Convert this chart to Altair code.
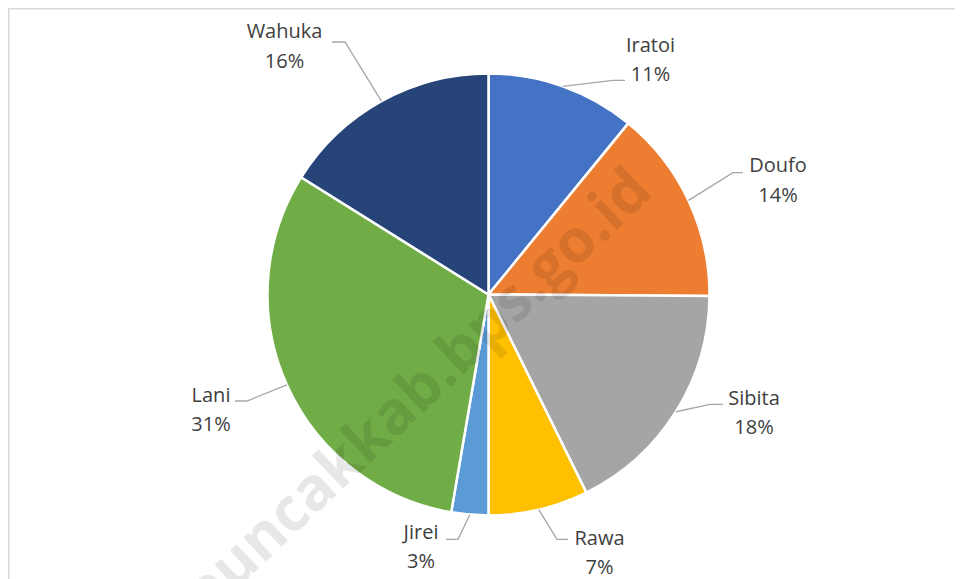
import math
import altair as alt
import pandas as pd

# ---- data ----
names = ["Iratoi", "Doufo", "Sibita", "Rawa", "Jirei", "Lani", "Wahuka"]
values = [10.9, 14.2, 17.6, 7.3, 2.7, 31.2, 16.1]
colors = ["#4472C4", "#ED7D31", "#A5A5A5", "#FFC000", "#5B9BD5", "#70AD47", "#264478"]
watermark = "puncakkab.bps.go.id"

# ---- layout (page pixel coordinates) ----
OFF = 8
W, H = 947, 571
CX, CY, R = 488.5, 294.5, 221
# label centre x, name baseline y, pct baseline y
label_pos = {
    "Iratoi": (650.5, 51.7, 80.7),
    "Doufo": (778, 172.3, 201.7),
    "Sibita": (754, 405, 434),
    "Rawa": (599.5, 545, 573.5),
    "Jirei": (421, 539.3, 568),
    "Lani": (211, 401.7, 431),
    "Wahuka": (284.5, 37.7, 67.5),
}
# leader elbow and end points
leader_pts = {
    "Iratoi": [(613, 80.3), (625, 80.3)],
    "Doufo": [(733, 172.7), (743, 172.7)],
    "Sibita": [(710, 404.3), (723, 404.3)],
    "Rawa": [(557, 539.3), (568, 539.3)],
    "Jirei": [(458, 539.3), (446, 539.3)],
    "Lani": [(247, 401), (235, 401)],
    "Wahuka": [(345, 42), (332, 42)],
}

total = sum(values)
rows, lines = [], []
cum = 0.0
for i, (n, v) in enumerate(zip(names, values)):
    mid = (cum + v / 2) / total * 2 * math.pi
    cum += v
    lx, ly1, ly2 = label_pos[n]
    rows.append({"idx": i, "name": n, "value": v,
                 "pct": f"{round(v / total * 100)}%",
                 "lx": lx, "ly1": ly1, "ly2": ly2})
    pts = [(CX + R * math.sin(mid), CY - R * math.cos(mid))] + leader_pts[n]
    for j, (px, py) in enumerate(pts):
        lines.append({"name": n, "seq": j, "x": px, "y": py})

df = pd.DataFrame(rows)
ldf = pd.DataFrame(lines)

xs = alt.Scale(domain=[OFF, OFF + W], range=[0, W])
ys = alt.Scale(domain=[OFF, OFF + H], range=[0, H])

pie = alt.Chart(df).mark_arc(outerRadius=R, stroke="white", strokeWidth=2.5).encode(
    theta=alt.Theta("value:Q", stack=True),
    order=alt.Order("idx:Q"),
    color=alt.Color("name:N", scale=alt.Scale(domain=names, range=colors), legend=None),
    x=alt.value(CX - OFF),
    y=alt.value(CY - OFF),
)

wm = alt.Chart(pd.DataFrame({"t": [watermark]})).mark_text(
    font="Open Sans", fontWeight="bold", fontSize=60, angle=316.6,
    color="#000000", opacity=0.09, align="center", baseline="middle",
).encode(text="t:N", x=alt.value(418 - OFF), y=alt.value(393 - OFF))

leaders = alt.Chart(ldf).mark_line(color="#A6A6A6", strokeWidth=1.3).encode(
    x=alt.X("x:Q", scale=xs, axis=None),
    y=alt.Y("y:Q", scale=ys, axis=None),
    detail="name:N",
    order="seq:Q",
)

txt_style = dict(font="Open Sans", fontSize=20, color="#404040", align="center", baseline="alphabetic")
name_txt = alt.Chart(df).mark_text(**txt_style).encode(
    x=alt.X("lx:Q", scale=xs, axis=None),
    y=alt.Y("ly1:Q", scale=ys, axis=None),
    text="name:N",
)
pct_txt = alt.Chart(df).mark_text(**txt_style).encode(
    x=alt.X("lx:Q", scale=xs, axis=None),
    y=alt.Y("ly2:Q", scale=ys, axis=None),
    text="pct:N",
)

frame_top = alt.Chart(pd.DataFrame({"a": [0]})).mark_rule(color="#D9D9D9", strokeWidth=1.5).encode(
    x=alt.value(0), x2=alt.value(W), y=alt.value(0.75))
frame_left = alt.Chart(pd.DataFrame({"a": [0]})).mark_rule(color="#D9D9D9", strokeWidth=1.5).encode(
    x=alt.value(0.75), y=alt.value(0), y2=alt.value(H))

chart = alt.layer(frame_top, frame_left, pie, wm, leaders, name_txt, pct_txt).properties(
    width=W, height=H, padding=0, autosize=alt.AutoSizeParams(type="none"), background="white"
).configure_view(stroke=None)

chart.save("out.html", embed_options={"renderer": "svg", "actions": False})
